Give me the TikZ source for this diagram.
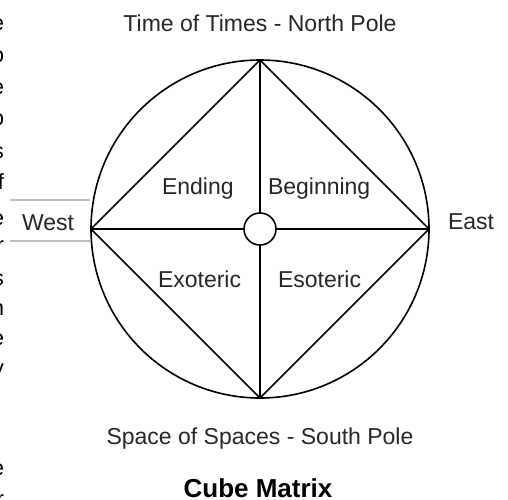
\documentclass[tikz,border=0pt]{standalone}
\usepackage{fontspec}
\setmainfont{Liberation Sans}
\usepackage{tikz}
\usetikzlibrary{
  arrows.meta,
  positioning,
  calc,
}

\begin{document}
\begin{tikzpicture}[
  x=1pt, y=-1pt,
  every node/.style={align=center, inner sep=0pt, outer sep=0pt},
  lbl/.style={font=\fontsize{23}{27}\selectfont, text=black!85},
  rim/.style={draw=black, line width=1.6pt},
]
\useasboundingbox (0,0) rectangle (508,499);

% cut-off letters of the neighbouring page text
\begin{scope}
\clip (0,0) rectangle (508,499);
\foreach \yy/\ch in {30/e, 62/o, 94/e, 125/o, 158/s, 189/f, 225/e, 252/r,
                     285/s, 315/n, 345/e, 375/y, 475/e, 506/r}
  \node[font=\fontsize{22}{26}\selectfont, anchor=base east] (frag\yy) at (4,\yy) {\ch};
\end{scope}

% West marker lines
\coordinate (wtop0) at (10,200);
\coordinate (wbot0) at (10,241);
\draw[gray!50, line width=1.2pt] (wtop0) -- ++(80,0);
\draw[gray!50, line width=1.2pt] (wbot0) -- ++(80,0);

% outer circle
\coordinate (c) at (260,229);
\node[rim, circle, minimum size=338pt] (ring) at (c) {};
\coordinate (north) at (ring.north);
\coordinate (south) at (ring.south);
\coordinate (east) at (ring.east);
\coordinate (west) at (ring.west);

% inner square and cross
\draw[rim, line join=miter] (north) -- (east) -- (south) -- (west) -- cycle;
\node[rim, circle, fill=white, minimum size=32pt] (hub) at (c) {};
\draw[rim] (north) -- (hub.north);
\draw[rim] (hub.south) -- (south);
\draw[rim] (west) -- (hub.west);
\draw[rim] (hub.east) -- (east);

% quadrant labels
\node[lbl, anchor=base west] (ending) at (162,194) {Ending};
\node[lbl, anchor=base west] (beginning) at (268,194) {Beginning};
\node[lbl, anchor=base west] (exoteric) at (158,287) {Exoteric};
\node[lbl, anchor=base west] (esoteric) at (278,287) {Esoteric};

% compass labels
\node[lbl, anchor=base] (northlbl) at (260,31) {Time of Times - North Pole};
\node[lbl, anchor=base] (southlbl) at (260,444) {Space of Spaces - South Pole};
\node[lbl, anchor=base west] (eastlbl) at (448,229) {East};
\node[lbl, anchor=base west] (westlbl) at (22,230) {West};

\node[font=\fontsize{26}{31}\selectfont\bfseries, anchor=base] (title) at (258,497) {Cube Matrix};

\end{tikzpicture}
\end{document}
